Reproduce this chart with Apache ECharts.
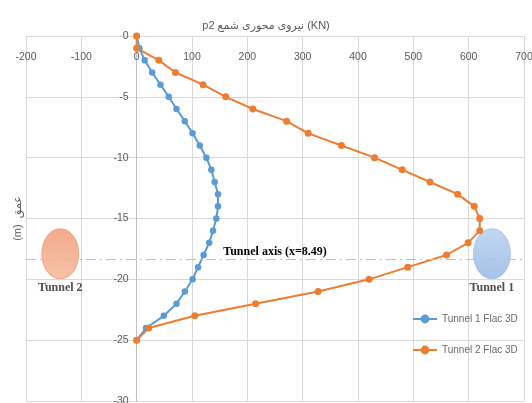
<!DOCTYPE html>
<html><head><meta charset="utf-8">
<script src="https://cdn.jsdelivr.net/npm/echarts@6/dist/echarts.min.js"></script>
<style>html,body{margin:0;padding:0;background:#fff}#c{width:532px;height:403px}</style>
</head><body><div id="c"></div>
<script>
// depth (m) and axial force (KN)
const depths = [0,-1,-2,-3,-4,-5,-6,-7,-8,-9,-10,-11,-12,-13,-14,-15,-16,-17,-18,-19,-20,-21,-22,-23,-24,-25];
const tunnel1 = [0,5,14.5,28,43,58,72,87,101,114,126,135,141,147,147,144,138,131,121,111,101,87,72,49,17,0];
const tunnel2 = [0,0,40,70,120,161,210,271,310,370,430,480,530,580,610,620,620,599,560,490,420,328,215,105,22,0];
const seriesNames = ['Tunnel 1 Flac 3D','Tunnel 2 Flac 3D'];
const tunnelAxisDepth = -18.34;
const tunnelAxisLabel = 'Tunnel axis (x=8.49)';
const tunnelNames = ['Tunnel 2','Tunnel 1'];
const tunnelX = [-138, 642];
const tunnelDepth = [-17.9, -17.9];
const xTicks = {min:-200, max:700, interval:100};
const yTicks = {min:-30, max:0, interval:5};
const titleText = 'p2 نیروی محوری شمع (KN)';
const yName = '(m)  عمق';

const chart = echarts.init(document.getElementById('c'), null, {renderer:'canvas'});
const lbl = {color:'#595959', fontSize:10.5, fontFamily:'"Liberation Sans Narrow","Liberation Sans","DejaVu Sans"'};
const grid = '#d9d9d9';
const gridLeft = 26;
const tunnelColors = [
  new echarts.graphic.LinearGradient(0,0,0,1,[{offset:0,color:'#ee956c'},{offset:1,color:'#f4b393'}]),
  new echarts.graphic.LinearGradient(0,0,0,1,[{offset:0,color:'#b2cdee'},{offset:1,color:'#8fb3e2'}])
];
const tunnelBorders = ['#f09a74','#9dbde6'];
const option = {
  animation:false,
  backgroundColor:'#fff',
  title:{text:titleText, left:'center', top:15, textStyle:{color:'#595959', fontSize:11, fontWeight:'normal', fontFamily:'"Liberation Sans","DejaVu Sans"'}},
  grid:{left:gridLeft, right:8, top:36, bottom:2, containLabel:false, outerBoundsMode:'none'},
  legend:{data:seriesNames, orient:'vertical', left:407, top:309, itemWidth:24, itemHeight:11, itemGap:21,
    textStyle:Object.assign({}, lbl, {fontSize:10, color:'#6a6a6a'})},
  xAxis:{type:'value', position:'top', min:xTicks.min, max:xTicks.max, interval:xTicks.interval,
    axisLine:{show:false}, axisTick:{show:false},
    axisLabel:Object.assign({inside:true, margin:16}, lbl),
    splitLine:{show:true, lineStyle:{color:grid, width:1}}},
  yAxis:{type:'value', min:yTicks.min, max:yTicks.max, interval:yTicks.interval, offset:0,
    name:yName, nameLocation:'middle', nameGap:10, nameTextStyle:{color:'#595959', fontSize:11, fontFamily:'"Liberation Sans","DejaVu Sans"'},
    axisLine:{show:true, onZero:false, lineStyle:{color:'#bfbfbf'}}, axisTick:{show:false},
    axisLabel:Object.assign({margin:8}, lbl),
    splitLine:{show:true, lineStyle:{color:grid, width:1}}},
  series:[
    {name:seriesNames[0], type:'line', data:depths.map((d,i)=>[tunnel1[i], d]),
     symbol:'circle', symbolSize:6.5, itemStyle:{color:'#5b9bd5'}, lineStyle:{color:'#5b9bd5', width:2},
     markLine:{silent:true, symbol:['none','none'], data:[{yAxis:tunnelAxisDepth}],
       lineStyle:{color:'#c0c0c0', width:1, type:[10,4,2,4]},
       label:{show:true, position:'middle', formatter:tunnelAxisLabel, color:'#000', fontSize:12, fontWeight:'bold',
         fontFamily:'"Liberation Serif","DejaVu Serif"', distance:1}}},
    {name:seriesNames[1], type:'line', data:depths.map((d,i)=>[tunnel2[i], d]),
     symbol:'circle', symbolSize:7, itemStyle:{color:'#ed7d31'}, lineStyle:{color:'#ed7d31', width:2}},
    {name:'tunnels', type:'scatter', symbol:'circle', symbolSize:[37,50], silent:true, z:1,
     data:tunnelNames.map((n,i)=>({name:n, value:[tunnelX[i], tunnelDepth[i]],
       itemStyle:{color:tunnelColors[i], borderColor:tunnelBorders[i], borderWidth:1}})),
     label:{show:true, position:'bottom', distance:3, formatter:'{b}', color:'#222', fontSize:12, fontWeight:'bold',
       fontFamily:'"Liberation Serif","DejaVu Serif"'}}
  ]
};
chart.setOption(option);
// move the vertical axis (line + labels) to x = 0, as in the reference
const px0 = chart.convertToPixel({xAxisIndex:0}, 0);
chart.setOption({yAxis:{offset:-(px0 - gridLeft), nameGap:px0 - 23}});
</script></body></html>
